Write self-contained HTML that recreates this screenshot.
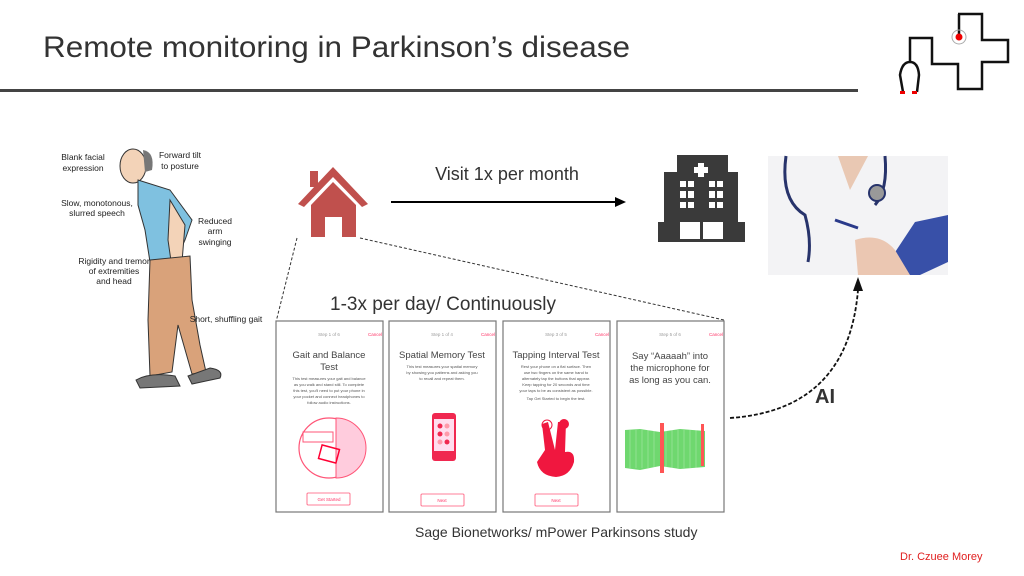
<!DOCTYPE html>
<html><head><meta charset="utf-8"><style>
html,body{margin:0;padding:0;background:#fff;}
svg{display:block;font-family:"Liberation Sans",Arial,sans-serif;}
</style></head><body>
<svg width="1024" height="576" viewBox="0 0 1024 576" xmlns="http://www.w3.org/2000/svg">
<rect width="1024" height="576" fill="#fff"/>
<text x="43" y="57" font-size="30" fill="#333" textLength="587" lengthAdjust="spacingAndGlyphs">Remote monitoring in Parkinson’s disease</text>
<rect x="0" y="89" width="858" height="3" fill="#444"/>
<!-- logo -->
<path d="M958 14 H982 V40 H1008 V62 H982 V89 H958 V64 H932 V38 H910 V62" fill="none" stroke="#111" stroke-width="2.5"/>
<line x1="959" y1="14" x2="959" y2="37" stroke="#111" stroke-width="2.5"/>
<circle cx="959" cy="37" r="7" fill="none" stroke="#aaa" stroke-width="1"/>
<circle cx="959" cy="37" r="3.5" fill="#e00"/>
<path d="M903 92 L900 75 Q902 62 910 62 Q918 62 919 75 L917 92" fill="none" stroke="#111" stroke-width="2.5"/>
<rect x="900" y="91" width="5" height="3" fill="#e00"/><rect x="912" y="91" width="5" height="3" fill="#e00"/>
<!-- man -->
<ellipse cx="133" cy="166" rx="13" ry="17" fill="#f3d3b8" stroke="#333" stroke-width="1"/>
<path d="M143 150 Q155 152 152 170 L145 172 Z" fill="#777"/>
<path d="M138 180 L170 190 L192 220 L185 240 L175 262 L150 262 L145 230 L138 205 Z" fill="#7fc1e0" stroke="#333" stroke-width="1"/>
<path d="M170 200 L185 225 L182 262 L172 268 L168 240 Z" fill="#f3d3b8" stroke="#333" stroke-width="1"/>
<path d="M150 260 L190 256 L192 300 L200 345 L206 372 L192 374 L178 325 L172 372 L150 376 L148 320 Z" fill="#d9a27a" stroke="#333" stroke-width="1"/>
<path d="M136 380 Q150 372 175 376 L180 386 L140 388 Z" fill="#777" stroke="#333" stroke-width="1"/>
<path d="M188 376 L210 368 Q224 370 220 378 L192 384 Z" fill="#777" stroke="#333" stroke-width="1"/>
<g font-size="8.5" fill="#222" text-anchor="middle">
<text x="83" y="160">Blank facial</text><text x="83" y="171">expression</text>
<text x="180" y="158">Forward tilt</text><text x="180" y="169">to posture</text>
<text x="97" y="206">Slow, monotonous,</text><text x="97" y="216">slurred speech</text>
<text x="215" y="224">Reduced</text><text x="215" y="234">arm</text><text x="215" y="245">swinging</text>
<text x="114" y="264">Rigidity and tremor</text><text x="114" y="274">of extremities</text><text x="114" y="284">and head</text>
<text x="226" y="322">Short, shuffling gait</text>
</g>
<!-- house -->
<path d="M333 167 L298 204 L304 207 L333 177 L362 207 L368 204 Z" fill="#c0504d"/>
<rect x="310" y="171" width="8" height="16" fill="#c0504d"/>
<path d="M311 205 L333 182 L356 205 V237 H342 V217 H325 V237 H311 Z" fill="#c0504d"/>
<!-- arrow -->
<text x="507" y="180" font-size="18" fill="#333" text-anchor="middle">Visit 1x per month</text>
<line x1="391" y1="202" x2="616" y2="202" stroke="#000" stroke-width="2"/>
<path d="M626 202 L615 197 L615 207 Z" fill="#000"/>
<!-- hospital -->
<path d="M677 155 H728 V172 H738 V222 H745 V242 H658 V222 H664 V172 H677 Z" fill="#3a3a3a"/>
<rect x="698" y="163" width="6" height="14" fill="#fff"/><rect x="694" y="167" width="14" height="6" fill="#fff"/>
<g fill="#fff">
<rect x="680" y="181" width="6" height="6"/><rect x="688" y="181" width="6" height="6"/><rect x="709" y="181" width="6" height="6"/><rect x="717" y="181" width="6" height="6"/>
<rect x="680" y="191" width="6" height="7"/><rect x="688" y="191" width="6" height="7"/><rect x="709" y="191" width="6" height="7"/><rect x="717" y="191" width="6" height="7"/>
<rect x="680" y="202" width="6" height="6"/><rect x="688" y="202" width="6" height="6"/><rect x="709" y="202" width="6" height="6"/><rect x="717" y="202" width="6" height="6"/>
<rect x="680" y="222" width="20" height="17"/><rect x="703" y="222" width="20" height="17"/>
</g>
<!-- doctor photo -->
<rect x="768" y="156" width="180" height="119" fill="#f3f3f5"/>
<path d="M838 156 L850 190 L868 156 Z" fill="#e9c8b3"/>
<path d="M786 156 Q780 200 805 215 Q812 240 808 262" fill="none" stroke="#27336b" stroke-width="3"/>
<path d="M885 156 Q888 190 875 205" fill="none" stroke="#27336b" stroke-width="3"/>
<circle cx="877" cy="193" r="8" fill="#999" stroke="#27336b" stroke-width="2"/>
<path d="M880 275 L915 222 L948 215 L948 262 L920 275 Z" fill="#3850a8"/>
<path d="M855 240 Q880 232 895 250 L910 275 L858 275 Z" fill="#ebc7b2"/>
<line x1="835" y1="220" x2="858" y2="228" stroke="#2a3a8a" stroke-width="3"/>
<!-- dashed lines -->
<line x1="297" y1="238" x2="276" y2="322" stroke="#333" stroke-width="1" stroke-dasharray="3,2"/>
<line x1="360" y1="238" x2="724" y2="320" stroke="#333" stroke-width="1" stroke-dasharray="3,2"/>
<text x="330" y="310" font-size="19" fill="#333">1-3x per day/ Continuously</text>
<!-- phones -->
<g stroke="#777" stroke-width="1.2" fill="#fff">
<rect x="276" y="321" width="107" height="191"/><rect x="389" y="321" width="107" height="191"/>
<rect x="503" y="321" width="107" height="191"/><rect x="617" y="321" width="107" height="191"/>
</g>
<g font-size="4.5" fill="#999" text-anchor="middle">
<text x="329" y="336">Step 1 of 6</text><text x="442" y="336">Step 1 of 4</text><text x="556" y="336">Step 3 of 5</text><text x="670" y="336">Step 5 of 6</text>
</g>
<g font-size="4.5" fill="#f36" text-anchor="end">
<text x="382" y="336">Cancel</text><text x="495" y="336">Cancel</text><text x="609" y="336">Cancel</text><text x="723" y="336">Cancel</text>
</g>
<g font-size="9.5" fill="#444" text-anchor="middle">
<text x="329" y="358">Gait and Balance</text><text x="329" y="370">Test</text>
<text x="442" y="358">Spatial Memory Test</text>
<text x="556" y="358">Tapping Interval Test</text>
<text x="670" y="359">Say “Aaaaah” into</text><text x="670" y="371">the microphone for</text><text x="670" y="383">as long as you can.</text>
</g>
<g font-size="4" fill="#555" text-anchor="middle">
<text x="329" y="380">This test measures your gait and balance</text><text x="329" y="386">as you walk and stand still. To complete</text><text x="329" y="392">this test, you'll need to put your phone in</text><text x="329" y="398">your pocket and connect headphones to</text><text x="329" y="404">follow audio instructions.</text>
<text x="442" y="368">This test measures your spatial memory</text><text x="442" y="374">by showing you patterns and asking you</text><text x="442" y="380">to recall and repeat them.</text>
<text x="556" y="368">Rest your phone on a flat surface. Then</text><text x="556" y="374">use two fingers on the same hand to</text><text x="556" y="380">alternately tap the buttons that appear.</text><text x="556" y="386">Keep tapping for 20 seconds and time</text><text x="556" y="392">your taps to be as consistent as possible.</text><text x="556" y="400">Tap Get Started to begin the test.</text>
</g>
<!-- gait icon -->
<circle cx="329" cy="448" r="30" fill="none" stroke="#f57" stroke-width="1.2"/>
<path d="M336 418 A30 30 0 0 1 336 478 Z" fill="#fcd" stroke="#f57" stroke-width="1"/>
<rect x="303" y="432" width="30" height="10" fill="none" stroke="#f57"/>
<rect x="320" y="447" width="18" height="14" fill="none" stroke="#f03" stroke-width="1.5" transform="rotate(15 329 454)"/>
<!-- spatial phone -->
<rect x="432" y="413" width="24" height="48" rx="3" fill="#f02850"/>
<rect x="434" y="419" width="20" height="32" fill="#fde"/>
<g fill="#f02850"><circle cx="440" cy="426" r="2.5"/><circle cx="440" cy="434" r="2.5"/><circle cx="447" cy="442" r="2.5"/></g>
<g fill="#f9a"><circle cx="447" cy="426" r="2.5"/><circle cx="447" cy="434" r="2.5"/><circle cx="440" cy="442" r="2.5"/></g>
<!-- hand -->
<path d="M548 422 L555 450 L558 422 L566 422 L565 452 Q575 450 574 462 Q570 476 556 477 Q540 476 537 462 L545 450 L542 424 Z" fill="#f0173f"/>
<circle cx="547" cy="425" r="5" fill="none" stroke="#f0173f" stroke-width="1"/>
<circle cx="564" cy="424" r="5" fill="#f0173f"/>
<!-- waveform -->
<path d="M625 430 L640 429 L660 432 L680 429 L705 431 V467 L680 469 L660 466 L640 470 L625 468 Z" fill="#6fd86f"/>
<g stroke="#fff" stroke-width="0.4" opacity="0.6">
<line x1="630" y1="430" x2="630" y2="468"/><line x1="636" y1="430" x2="636" y2="468"/><line x1="642" y1="430" x2="642" y2="468"/><line x1="648" y1="430" x2="648" y2="468"/><line x1="654" y1="430" x2="654" y2="468"/><line x1="666" y1="430" x2="666" y2="468"/><line x1="672" y1="430" x2="672" y2="468"/><line x1="678" y1="430" x2="678" y2="468"/><line x1="684" y1="430" x2="684" y2="468"/><line x1="690" y1="430" x2="690" y2="468"/><line x1="696" y1="430" x2="696" y2="468"/>
</g>
<rect x="660" y="423" width="4" height="50" fill="#f55"/>
<rect x="701" y="424" width="3" height="42" fill="#f55"/>
<!-- buttons -->
<g fill="#fff" stroke="#f57" stroke-width="0.8">
<rect x="307" y="493" width="43" height="12" rx="1"/><rect x="421" y="494" width="43" height="12" rx="1"/><rect x="535" y="494" width="43" height="12" rx="1"/>
</g>
<g font-size="4.5" fill="#f36" text-anchor="middle">
<text x="329" y="501">Get Started</text><text x="442" y="502">Next</text><text x="556" y="502">Next</text>
</g>
<!-- AI arrow -->
<path d="M730 418 Q848 410 858 290" fill="none" stroke="#111" stroke-width="1.8" stroke-dasharray="4,2"/>
<path d="M858 277 L853 291 L863 291 Z" fill="#111"/>
<text x="815" y="403" font-size="20" font-weight="bold" fill="#333">AI</text>
<text x="415" y="537" font-size="14" fill="#333">Sage Bionetworks/ mPower Parkinsons study</text>
<text x="900" y="560" font-size="11" fill="#e02020">Dr. Czuee Morey</text>
</svg>
</body></html>
